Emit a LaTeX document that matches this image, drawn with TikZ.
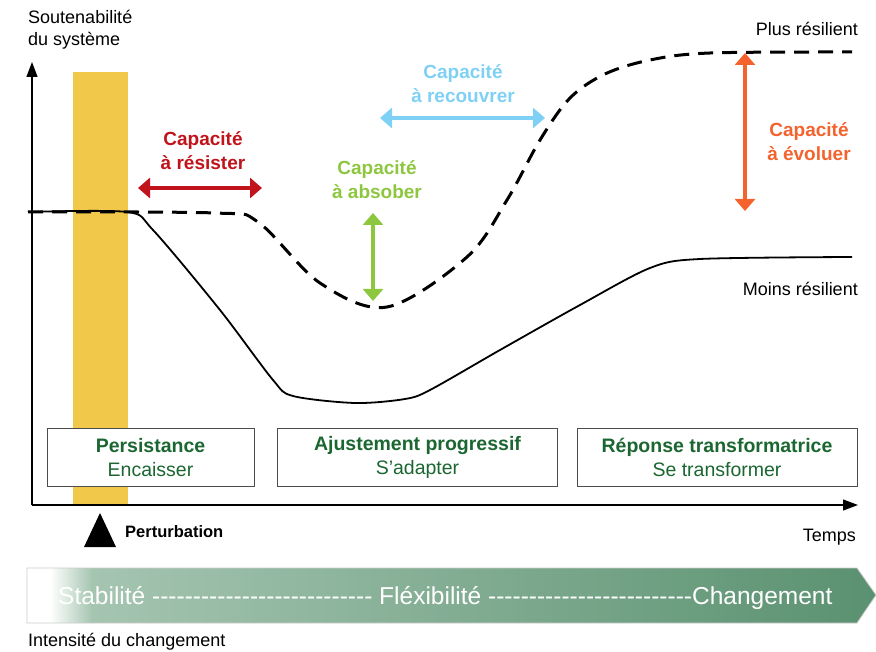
\documentclass[tikz,border=0pt]{standalone}
\usepackage{fontspec}
\setmainfont{Liberation Sans}
\usetikzlibrary{arrows.meta,positioning,calc}
\definecolor{barjaune}{HTML}{F2C84B}
\definecolor{rouge}{HTML}{C0131B}
\definecolor{bleuclair}{HTML}{7FD0F5}
\definecolor{vertclair}{HTML}{8DC63F}
\definecolor{orange}{HTML}{F4622D}
\definecolor{vertfonce}{HTML}{1B6631}
\definecolor{bandeclair}{HTML}{A5C5B1}
\definecolor{bandefonce}{HTML}{5A9170}
\newcommand{\tirets}[1]{\foreach \i in {1,...,#1}{-}} % hyphens without ligatures
\begin{document}
\begin{tikzpicture}[x=1pt,y=-1pt] % pixel coordinates, origin top left
\tikzset{txt/.style={font=\fontsize{18}{22}\selectfont, inner sep=0pt}} % plain labels
\tikzset{capa/.style={font=\fontsize{19}{24}\selectfont\bfseries, align=center, inner sep=0pt}} % capacity labels
\tikzset{capaarrow/.style={line width=3.5pt, {Triangle[width=20pt,length=12pt]}-{Triangle[width=20pt,length=12pt]}}}
\tikzset{phase/.style={draw=black!70, line width=0.8pt, minimum width=#1, minimum height=58pt, align=center, text=vertfonce, font=\fontsize{19.5}{24.5}\selectfont}}
\tikzset{axis/.style={line width=1.2pt, -{Triangle[width=11pt,length=15pt]}}}
\useasboundingbox (0,0) rectangle (876,652);
% perturbation band
\fill[barjaune] (73,72) rectangle (128,505);
% axes
\coordinate (origin) at (32,505);
\coordinate (ytop) at (32,62);
\coordinate (xend) at (858,505);
\draw[axis] (origin) -- (ytop);
\draw[axis] (origin) -- (xend);
\node[txt, anchor=north west, align=left] (ylabel) at (28,10) {Soutenabilit\'e\\du syst\`eme};
\node[txt, anchor=east] (temps) at (856,537) {Temps};
% curves
\draw[line width=3pt, dash pattern=on 15pt off 9pt] plot[smooth, tension=0.55] coordinates {(28,212) (215,213) (258,222) (320,283) (387,307) (467,257) (507,200) (540,140) (570,98) (605,74) (650,60) (710,53) (852,52)};
\draw[line width=1.8pt] plot[smooth, tension=0.5] coordinates {(28,212) (127,212) (153,230) (220,310) (273,380) (293,396) (355,403) (405,399) (430,390) (500,350) (580,305) (650,268) (700,259) (852,257)};
\node[txt, anchor=east] (plus) at (858,29) {Plus r\'esilient};
\node[txt, anchor=east] (moins) at (858,289) {Moins r\'esilient};
% capacities
\node[capa, text=rouge] (resister) at (203,151) {Capacit\'e\\\`a r\'esister};
\coordinate (r1) at (138,188); \coordinate (r2) at (262,188);
\draw[capaarrow, rouge] (r1) -- (r2);
\node[capa, text=bleuclair] (recouvrer) at (463,84) {Capacit\'e\\\`a recouvrer};
\coordinate (b1) at (380,118); \coordinate (b2) at (545,118);
\draw[capaarrow, bleuclair] (b1) -- (b2);
\node[capa, text=vertclair] (absorber) at (377,180) {Capacit\'e\\\`a absober};
\coordinate (v1) at (373,213); \coordinate (v2) at (373,301);
\draw[capaarrow, vertclair] (v1) -- (v2);
\node[capa, text=orange] (evoluer) at (809,142) {Capacit\'e\\\`a \'evoluer};
\coordinate (o1) at (745,53); \coordinate (o2) at (745,211);
\draw[capaarrow, orange] (o1) -- (o2);
% phases
\node[phase=207pt, fill=white] (persistance) at (150.5,457.5) {\textbf{Persistance}\\Encaisser};
\node[phase=280pt, fill=white] (ajustement) at (417.5,457.5) {\textbf{Ajustement progressif}\\S'adapter};
\node[phase=280pt, fill=white] (reponse) at (717,457.5) {\textbf{R\'eponse transformatrice}\\Se transformer};
% perturbation
\fill (84,547) -- (100,513) -- (116,547) -- cycle;
\node[txt, font=\fontsize{16.5}{20}\selectfont\bfseries, anchor=west] (perturbation) at (125,532) {Perturbation};
% intensity band
\begin{scope}
\clip (27,568) -- (857,568) -- (876,595) -- (857,623) -- (27,623) -- cycle;
\fill[white] (27,568) rectangle (51,623);
\shade[left color=white, right color=bandeclair] (50,568) rectangle (92,623);
\shade[left color=bandeclair, right color=bandefonce] (91,568) rectangle (876,623);
\end{scope}
\draw[black!20, line width=0.8pt] (27,568) -- (857,568) -- (876,595) -- (857,623) -- (27,623) -- cycle;
\node[txt, font=\fontsize{24.5}{28}\selectfont, text=white, anchor=west] (intensite) at (58,598) {Stabilit\'e \tirets{27} Fl\'exibilit\'e \tirets{25}Changement};
\node[txt, anchor=west] (intlabel) at (28,642) {Intensit\'e du changement};
\end{tikzpicture}
\end{document}
